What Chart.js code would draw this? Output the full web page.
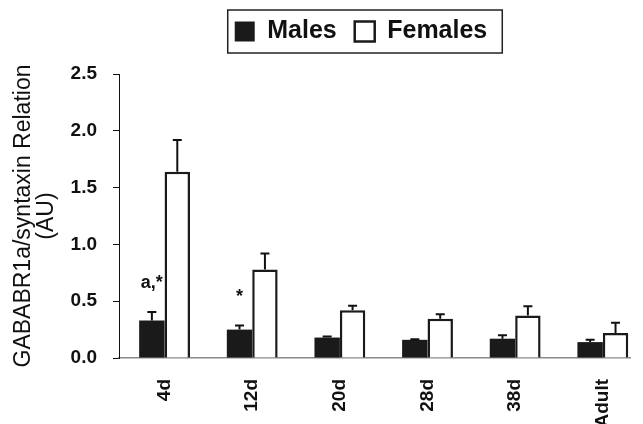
<!DOCTYPE html>
<html>
<head>
<meta charset="utf-8">
<script src="https://cdn.jsdelivr.net/npm/chart.js@4/dist/chart.umd.min.js"></script>
<style>
  html, body { margin: 0; padding: 0; background: #fff; }
  #wrap { width: 643px; height: 424px; position: relative; }
</style>
</head>
<body>
<div id="wrap"><canvas id="c" width="643" height="424"></canvas></div>
<script>
// ---- data ----
const categories = ['4d', '12d', '20d', '28d', '38d', 'Adult'];
const males      = [0.33, 0.25, 0.18, 0.16, 0.17, 0.14];
const malesErr   = [0.076, 0.036, 0.01, 0.005, 0.03, 0.02];
const females    = [1.64, 0.78, 0.42, 0.345, 0.375, 0.22];
const femalesErr = [0.28, 0.14, 0.04, 0.04, 0.08, 0.09];
const annotations = ['a,*', '*', '', '', '', ''];
const yTicks = [0, 0.5, 1.0, 1.5, 2.0, 2.5];

const FONT = "'Liberation Sans', Arial, Helvetica, sans-serif";

const errorBars = {
  id: 'errorBars',
  afterDatasetsDraw(chart) {
    const ctx = chart.ctx;
    const y = chart.scales.y;
    const errs = [malesErr, femalesErr];
    const vals = [males, females];
    ctx.save();
    ctx.strokeStyle = '#111';
    ctx.lineWidth = 2;
    errs.forEach((err, di) => {
      const meta = chart.getDatasetMeta(di);
      meta.data.forEach((el, i) => {
        const top = y.getPixelForValue(vals[di][i] + err[i]);
        const base = el.y;
        ctx.beginPath();
        ctx.moveTo(el.x, base);
        ctx.lineTo(el.x, top);
        ctx.moveTo(el.x - 4.5, top);
        ctx.lineTo(el.x + 4.5, top);
        ctx.stroke();
      });
    });
    // significance annotations over male bars
    const meta = chart.getDatasetMeta(0);
    ctx.fillStyle = '#111';
    ctx.font = 'bold 18px ' + FONT;
    ctx.textAlign = 'center';
    ctx.textBaseline = 'alphabetic';
    annotations.forEach((t, i) => {
      if (!t) return;
      const el = meta.data[i];
      const top = y.getPixelForValue(males[i] + malesErr[i]);
      ctx.fillText(t, el.x, top - 24);
    });
    ctx.restore();
  }
};

const legendPlace = {
  id: 'legendPlace',
  afterLayout(chart) {
    const lg = chart.legend;
    if (!lg) return;
    lg.left = chart.chartArea.left - 27;
    lg.right = chart.chartArea.right;
    lg.top -= 20;
    lg.bottom -= 20;
  },
  afterDraw(chart) {
    const lg = chart.legend;
    if (!lg || !lg.legendHitBoxes || !lg.legendHitBoxes.length) return;
    const hb = lg.legendHitBoxes;
    let l = Infinity, r = -Infinity, t = Infinity, b = -Infinity;
    hb.forEach(h => {
      l = Math.min(l, h.left); r = Math.max(r, h.left + h.width);
      t = Math.min(t, h.top); b = Math.max(b, h.top + h.height);
    });
    const cy = (t + b) / 2;
    const ctx = chart.ctx;
    ctx.save();
    ctx.strokeStyle = '#222';
    ctx.lineWidth = 1.5;
    ctx.strokeRect(l - 7, cy - 21.5, (r - l) + 22, 43);
    ctx.restore();
  }
};

new Chart(document.getElementById('c'), {
  type: 'bar',
  data: {
    datasets: [
      {
        label: 'Males',
        data: males.map((v, i) => ({ x: i, y: v })),
        backgroundColor: '#1a1a1a',
        borderColor: '#1a1a1a',
        borderWidth: 0
      },
      {
        label: 'Females',
        data: females.map((v, i) => ({ x: i, y: v })),
        backgroundColor: '#ffffff',
        borderColor: '#1a1a1a',
        borderWidth: 2.5
      }
    ]
  },
  options: {
    responsive: false,
    animation: false,
    devicePixelRatio: 1,
    categoryPercentage: 0.58,
    barPercentage: 1.0,
    layout: { padding: { top: 21, right: 13, bottom: 0, left: 0 } },
    plugins: {
      tooltip: { enabled: false },
      legend: {
        display: true,
        position: 'top',
        align: 'center',
        labels: {
          color: '#111',
          font: { family: FONT, size: 25, weight: 'bold' },
          boxWidth: 20,
          boxHeight: 20,
          padding: 18
        }
      }
    },
    scales: {
      x: {
        type: 'linear',
        min: -0.52,
        max: 5.31,
        offset: false,
        grid: { display: false },
        border: { display: true, color: '#8a8a8a', width: 1.5 },
        afterBuildTicks(scale) {
          scale.ticks = categories.map((_, i) => ({ value: i }));
        },
        afterFit(scale) { scale.height = 66; },
        ticks: {
          autoSkip: false,
          maxRotation: 90,
          minRotation: 90,
          padding: 13,
          color: '#111',
          font: { family: FONT, size: 19, weight: 'bold' },
          callback: (v) => categories[v]
        }
      },
      y: {
        min: 0,
        max: 2.5,
        afterBuildTicks(scale) {
          scale.ticks = yTicks.map(v => ({ value: v }));
        },
        afterFit(scale) { scale.width = 119; },
        grid: {
          display: true,
          drawOnChartArea: false,
          drawTicks: true,
          tickLength: 6,
          color: '#111',
          lineWidth: 1
        },
        border: { display: true, color: '#111', width: 1 },
        ticks: {
          padding: 16,
          color: '#111',
          font: { family: FONT, size: 19, weight: 'bold' },
          callback: (v) => Number(v).toFixed(1)
        },
        title: {
          display: true,
          text: ['GABABR1a/syntaxin Relation', '(AU)'],
          color: '#111',
          font: { family: FONT, size: 23, weight: 'normal', lineHeight: 1.0 },
          padding: { top: 12, bottom: 0 }
        }
      }
    }
  },
  plugins: [errorBars, legendPlace]
});
</script>
</body>
</html>
